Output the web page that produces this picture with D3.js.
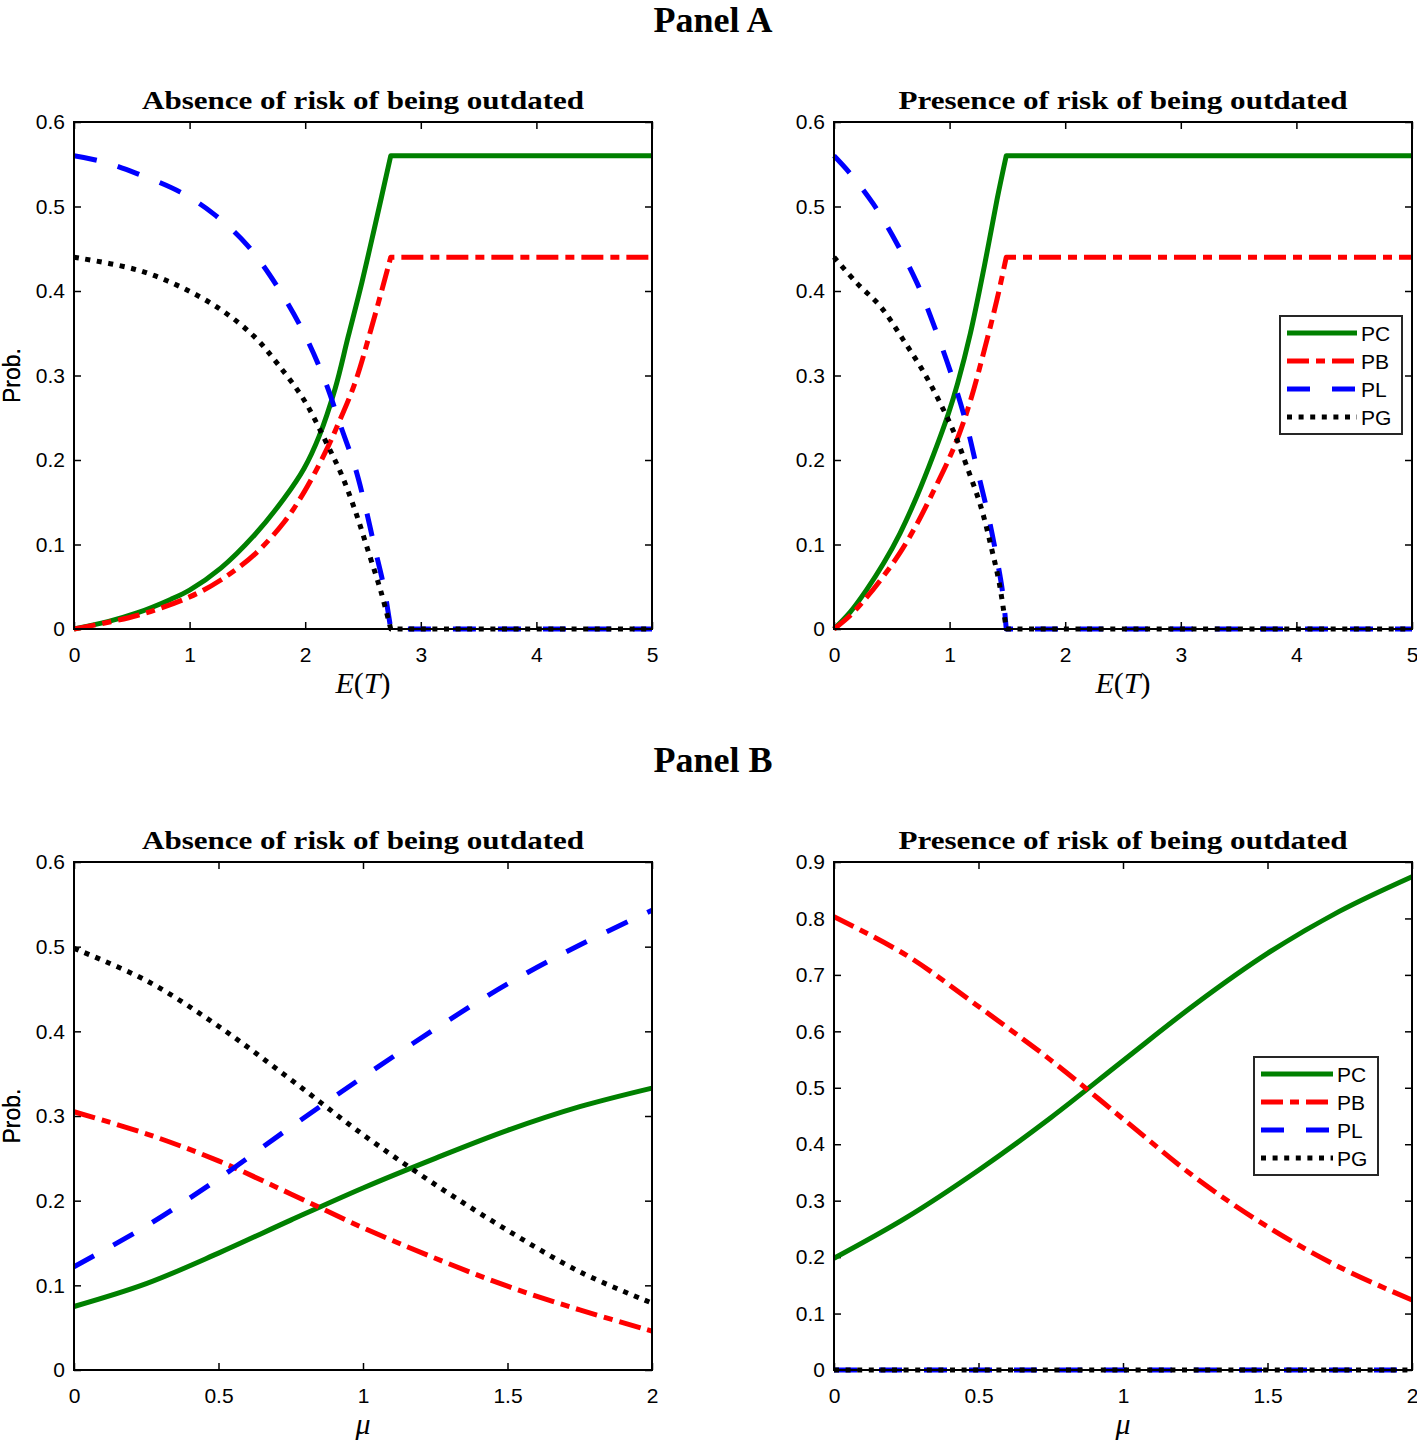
<!DOCTYPE html>
<html><head><meta charset="utf-8">
<script src="https://cdn.jsdelivr.net/npm/d3@7"></script>
<style>body{margin:0;background:#fff}</style>
</head><body><svg id="c" width="1417" height="1441"></svg>
<script>
// ---------- DATA ----------
const seriesNames = ["PC", "PB", "PL", "PG"];
const panelTitles = ["Panel A", "Panel B"];
const subTitles = ["Absence of risk of being outdated", "Presence of risk of being outdated"];

const xTicksA = [0, 1, 2, 3, 4, 5];
const yTicksA = [0, 0.1, 0.2, 0.3, 0.4, 0.5, 0.6];
const xTicksB = [0, 0.5, 1, 1.5, 2];
const yTicksBL = [0, 0.1, 0.2, 0.3, 0.4, 0.5, 0.6];
const yTicksBR = [0, 0.1, 0.2, 0.3, 0.4, 0.5, 0.6, 0.7, 0.8, 0.9];

// Panel A, absence (x = E(T))
const aL_PC_x = [0, 0.3, 0.545, 0.835, 1, 1.27, 1.56, 1.82, 1.99, 2.12, 2.26, 2.37, 2.49, 2.6, 2.74, 5];
const aL_PC_y = [0, 0.009, 0.019, 0.035, 0.046, 0.072, 0.111, 0.155, 0.19, 0.228, 0.285, 0.345, 0.41, 0.475, 0.56, 0.56];
const aL_PB_x = [0, 0.545, 1, 1.27, 1.56, 1.82, 1.99, 2.17, 2.28, 2.43, 2.57, 2.74, 5];
const aL_PB_y = [0, 0.016, 0.038, 0.058, 0.088, 0.127, 0.162, 0.208, 0.241, 0.291, 0.355, 0.44, 0.44];
const aL_PL_x = [0, 0.25, 0.545, 0.92, 1.21, 1.5, 1.76, 1.99, 2.17, 2.31, 2.43, 2.52, 2.6, 2.68, 2.74, 5];
const aL_PL_y = [0.56, 0.553, 0.539, 0.517, 0.491, 0.454, 0.405, 0.35, 0.294, 0.239, 0.192, 0.145, 0.097, 0.05, 0, 0];
const aL_PG_x = [0, 0.545, 0.92, 1.27, 1.56, 1.76, 1.99, 2.17, 2.31, 2.43, 2.55, 2.66, 2.74, 5];
const aL_PG_y = [0.44, 0.425, 0.405, 0.378, 0.346, 0.314, 0.271, 0.224, 0.184, 0.141, 0.09, 0.042, 0, 0];

// Panel A, presence
const aR_PC_x = [0, 0.14, 0.28, 0.43, 0.57, 0.72, 0.86, 0.99, 1.07, 1.18, 1.3, 1.41, 1.49, 5];
const aR_PC_y = [0, 0.02, 0.046, 0.078, 0.113, 0.158, 0.206, 0.255, 0.291, 0.35, 0.429, 0.508, 0.56, 0.56];
const aR_PB_x = [0, 0.14, 0.28, 0.43, 0.57, 0.72, 0.86, 0.99, 1.07, 1.18, 1.3, 1.41, 1.49, 5];
const aR_PB_y = [0, 0.016, 0.037, 0.063, 0.09, 0.125, 0.163, 0.2, 0.226, 0.27, 0.33, 0.39, 0.44, 0.44];
const aR_PL_x = [0, 0.14, 0.34, 0.545, 0.72, 0.89, 1.04, 1.15, 1.24, 1.33, 1.4, 1.46, 1.49, 5];
const aR_PL_y = [0.56, 0.539, 0.503, 0.456, 0.409, 0.35, 0.291, 0.24, 0.188, 0.137, 0.09, 0.042, 0, 0];
const aR_PG_x = [0, 0.2, 0.4, 0.6, 0.78, 0.92, 1.04, 1.15, 1.27, 1.36, 1.43, 1.49, 5];
const aR_PG_y = [0.44, 0.409, 0.382, 0.342, 0.303, 0.267, 0.232, 0.192, 0.145, 0.097, 0.054, 0, 0];

// Panel B (x = mu)
const muValues = [0, 0.25, 0.5, 0.75, 1, 1.25, 1.5, 1.75, 2];
const bL_PC = [0.075, 0.102, 0.138, 0.177, 0.215, 0.25, 0.283, 0.311, 0.333];
const bL_PB = [0.305, 0.279, 0.247, 0.208, 0.168, 0.132, 0.099, 0.071, 0.046];
const bL_PL = [0.122, 0.170, 0.226, 0.287, 0.346, 0.403, 0.456, 0.502, 0.543];
const bL_PG = [0.498, 0.46, 0.406, 0.343, 0.278, 0.219, 0.165, 0.116, 0.079];
const bR_PC = [0.198, 0.27, 0.354, 0.447, 0.548, 0.648, 0.738, 0.813, 0.874];
const bR_PB = [0.803, 0.735, 0.644, 0.549, 0.445, 0.341, 0.254, 0.182, 0.124];
const bR_PL = [0, 0, 0, 0, 0, 0, 0, 0, 0];
const bR_PG = [0, 0, 0, 0, 0, 0, 0, 0, 0];

// ---------- STYLE ----------
const styles = {
  PC: {color: "#008000", dash: null},
  PB: {color: "#ff0000", dash: "22,7,9,7"},
  PL: {color: "#0000ff", dash: "23,22"},
  PG: {color: "#000000", dash: "5,6.6"}
};
const LW = 5;
const sansFont = "'Liberation Sans', Arial, sans-serif";
const serifFont = "'Liberation Serif', 'Times New Roman', serif";

const svg = d3.select("#c");

function zip(xs, ys) { return xs.map((x, i) => [x, ys[i]]); }

const panels = [
  {x0: 74, x1: 652, y0: 122, y1: 629, xd: [0, 5], yd: [0, 0.6], xt: xTicksA, yt: yTicksA,
   title: subTitles[0], tw: 442, xlab: "ET",
   series: {PC: zip(aL_PC_x, aL_PC_y), PB: zip(aL_PB_x, aL_PB_y), PL: zip(aL_PL_x, aL_PL_y), PG: zip(aL_PG_x, aL_PG_y)}},
  {x0: 834, x1: 1412, y0: 122, y1: 629, xd: [0, 5], yd: [0, 0.6], xt: xTicksA, yt: yTicksA,
   title: subTitles[1], tw: 449, xlab: "ET",
   legend: {x: 1280, y: 316, w: 122, h: 118, lx0: 1287, lx1: 1357, tx: 1361, ey: [333, 361, 389, 417]},
   series: {PC: zip(aR_PC_x, aR_PC_y), PB: zip(aR_PB_x, aR_PB_y), PL: zip(aR_PL_x, aR_PL_y), PG: zip(aR_PG_x, aR_PG_y)}},
  {x0: 74, x1: 652, y0: 862, y1: 1370, xd: [0, 2], yd: [0, 0.6], xt: xTicksB, yt: yTicksBL,
   title: subTitles[0], tw: 442, xlab: "mu",
   series: {PC: zip(muValues, bL_PC), PB: zip(muValues, bL_PB), PL: zip(muValues, bL_PL), PG: zip(muValues, bL_PG)}},
  {x0: 834, x1: 1412, y0: 862, y1: 1370, xd: [0, 2], yd: [0, 0.9], xt: xTicksB, yt: yTicksBR,
   title: subTitles[1], tw: 449, xlab: "mu",
   legend: {x: 1254, y: 1057, w: 124, h: 118, lx0: 1261, lx1: 1333, tx: 1337, ey: [1074, 1102, 1130, 1158]},
   series: {PC: zip(muValues, bR_PC), PB: zip(muValues, bR_PB), PL: zip(muValues, bR_PL), PG: zip(muValues, bR_PG)}}
];

// Panel headers
svg.append("text").attr("x", 713).attr("y", 32).attr("text-anchor", "middle")
  .attr("font-family", serifFont).attr("font-weight", "bold").attr("font-size", 36).text(panelTitles[0]);
svg.append("text").attr("x", 713).attr("y", 772).attr("text-anchor", "middle")
  .attr("font-family", serifFont).attr("font-weight", "bold").attr("font-size", 36).text(panelTitles[1]);

const fmt = v => String(+v.toFixed(2));

function pathFor(pts, xs, ys) {
  const n = pts.length;
  let k = n - 1;
  while (k > 0 && pts[k - 1][1] === pts[n - 1][1]) k--;
  const lin = d3.line().x(d => xs(d[0])).y(d => ys(d[1]));
  const cur = d3.line().x(d => xs(d[0])).y(d => ys(d[1])).curve(d3.curveCatmullRom.alpha(0.5));
  if (k === 0) return lin(pts);
  if (k === n - 1) return cur(pts);
  return cur(pts.slice(0, k + 1)) + lin(pts.slice(k)).replace(/^M/, "L");
}

panels.forEach(p => {
  const xs = d3.scaleLinear().domain(p.xd).range([p.x0, p.x1]);
  const ys = d3.scaleLinear().domain(p.yd).range([p.y1, p.y0]);
  const g = svg.append("g");

  // ticks & labels
  const ax = [
    d3.axisBottom(xs).tickValues(p.xt).tickFormat(fmt).tickSizeInner(-7).tickSizeOuter(0).tickPadding(18),
    d3.axisTop(xs).tickValues(p.xt).tickFormat("").tickSizeInner(-7).tickSizeOuter(0),
    d3.axisLeft(ys).tickValues(p.yt).tickFormat(fmt).tickSizeInner(-7).tickSizeOuter(0).tickPadding(9),
    d3.axisRight(ys).tickValues(p.yt).tickFormat("").tickSizeInner(-7).tickSizeOuter(0)
  ];
  const tr = [`translate(0,${p.y1})`, `translate(0,${p.y0})`, `translate(${p.x0},0)`, `translate(${p.x1},0)`];
  ax.forEach((a, i) => {
    const ag = g.append("g").attr("transform", tr[i]).call(a);
    ag.select(".domain").remove();
    ag.selectAll(".tick line").attr("stroke", "#000").attr("stroke-width", 1.5);
    ag.selectAll(".tick text").attr("font-family", sansFont).attr("font-size", 21).attr("fill", "#000");
  });

  // series
  seriesNames.forEach(name => {
    const st = styles[name];
    g.append("path").attr("d", pathFor(p.series[name], xs, ys))
      .attr("fill", "none").attr("stroke", st.color).attr("stroke-width", LW)
      .attr("stroke-dasharray", st.dash).attr("stroke-linejoin", "round");
  });

  // frame
  g.append("rect").attr("x", p.x0).attr("y", p.y0).attr("width", p.x1 - p.x0).attr("height", p.y1 - p.y0)
    .attr("fill", "none").attr("stroke", "#000").attr("stroke-width", 2);

  // title
  g.append("text").attr("x", (p.x0 + p.x1) / 2).attr("y", p.y0 - 13).attr("text-anchor", "middle")
    .attr("font-family", serifFont).attr("font-weight", "bold").attr("font-size", 26)
    .attr("textLength", p.tw).attr("lengthAdjust", "spacingAndGlyphs").text(p.title);

  // y label
  g.append("text").attr("transform", `translate(20,${(p.y0 + p.y1) / 2}) rotate(-90)`)
    .attr("text-anchor", "middle").attr("font-family", sansFont).attr("font-size", 23).text("Prob.");

  // x label
  const xl = g.append("text").attr("x", (p.x0 + p.x1) / 2).attr("y", p.y1 + 64).attr("text-anchor", "middle")
    .attr("font-family", serifFont).attr("font-size", 30);
  if (p.xlab === "ET") {
    xl.append("tspan").attr("font-style", "italic").text("E");
    xl.append("tspan").text("(");
    xl.append("tspan").attr("font-style", "italic").text("T");
    xl.append("tspan").text(")");
  } else {
    xl.append("tspan").attr("font-style", "italic").text("μ");
  }

  // legend
  if (p.legend) {
    const L = p.legend;
    const lg = g.append("g");
    lg.append("rect").attr("x", L.x).attr("y", L.y).attr("width", L.w).attr("height", L.h)
      .attr("fill", "#fff").attr("stroke", "#262626").attr("stroke-width", 2);
    seriesNames.forEach((name, i) => {
      const st = styles[name];
      lg.append("line").attr("x1", L.lx0).attr("x2", L.lx1).attr("y1", L.ey[i]).attr("y2", L.ey[i])
        .attr("stroke", st.color).attr("stroke-width", LW).attr("stroke-dasharray", st.dash);
      lg.append("text").attr("x", L.tx).attr("y", L.ey[i]).attr("dy", "0.36em")
        .attr("font-family", sansFont).attr("font-size", 21).text(name);
    });
  }
});
</script>
</body></html>
